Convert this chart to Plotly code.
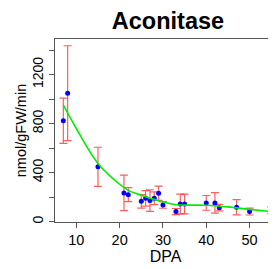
import plotly.graph_objects as go

dpa = [7, 8, 15, 21, 22, 25, 26, 27, 28, 29, 30, 33, 34, 35, 40, 42, 43, 47, 50, 55]
activity = [823, 1048, 447, 234, 220, 166, 190, 172, 190, 231, 136, 82, 144, 144, 153, 153, 114, 117, 82, 92]
err = [185, 387, 160, 145, 57, 55, 63, 88, 52, 58, 27, 25, 80, 80, 60, 83, 27, 62, 28, 28]

fit_x = [7, 10, 15, 20, 22, 25, 28, 30, 33, 35, 40, 42, 45, 47, 50, 55]
fit_y = [950, 760, 475, 305, 255, 215, 180, 160, 138, 135, 134, 130, 120, 112, 100, 82]

y_tickvals = [0, 200, 400, 600, 800, 1000, 1200, 1400]
y_ticktext = ["0", "", "400", "", "800", "", "1200", ""]
x_tickvals = [10, 20, 30, 40, 50]

fig = go.Figure()
fig.add_trace(go.Scatter(
    x=dpa, y=activity, mode="markers",
    marker=dict(color="blue", size=5, symbol="circle"),
    error_y=dict(type="data", array=err, visible=True,
                 color="rgba(255,40,40,0.75)", thickness=1.2, width=4),
    showlegend=False))
fig.add_trace(go.Scatter(
    x=fit_x, y=fit_y, mode="lines",
    line=dict(color="#00EE00", width=1.6, shape="spline"),
    showlegend=False))

font = "Liberation Sans, Arial, sans-serif"
# page body has an 8px margin, so the figure is laid out 8px smaller
W, H = 268, 261
fig.update_layout(
    width=W, height=H,
    margin=dict(l=47, r=0, t=31, b=47, autoexpand=False),
    paper_bgcolor="white", plot_bgcolor="white",
    font=dict(family=font, size=14, color="black"),
    title=dict(text="<b>Aconitase</b>", x=(168 - 8) / W, xanchor="center",
               y=1 - 12.5 / H, yanchor="middle",
               font=dict(size=23.5, family=font, color="black"), automargin=False),
)
fig.update_xaxes(
    range=[5.08, 56.1], tickvals=x_tickvals, ticks="outside", ticklen=5,
    tickcolor="#555", showline=True, linecolor="#555", linewidth=1, mirror=True,
    showgrid=False, zeroline=False, automargin=False,
    title=dict(text="DPA", standoff=0, font=dict(size=16)),
    tickfont=dict(size=14.5))
fig.update_yaxes(
    range=[-3, 1490], tickvals=y_tickvals, ticktext=y_ticktext, ticks="outside",
    ticklen=5, tickcolor="#555", showline=True, linecolor="#555", linewidth=1,
    showgrid=False, zeroline=False, tickangle=-90, automargin=False,
    title=dict(text="nmol/gFW/min", standoff=0, font=dict(size=14.5)),
    tickfont=dict(size=14))

fig.write_html("out.html")
